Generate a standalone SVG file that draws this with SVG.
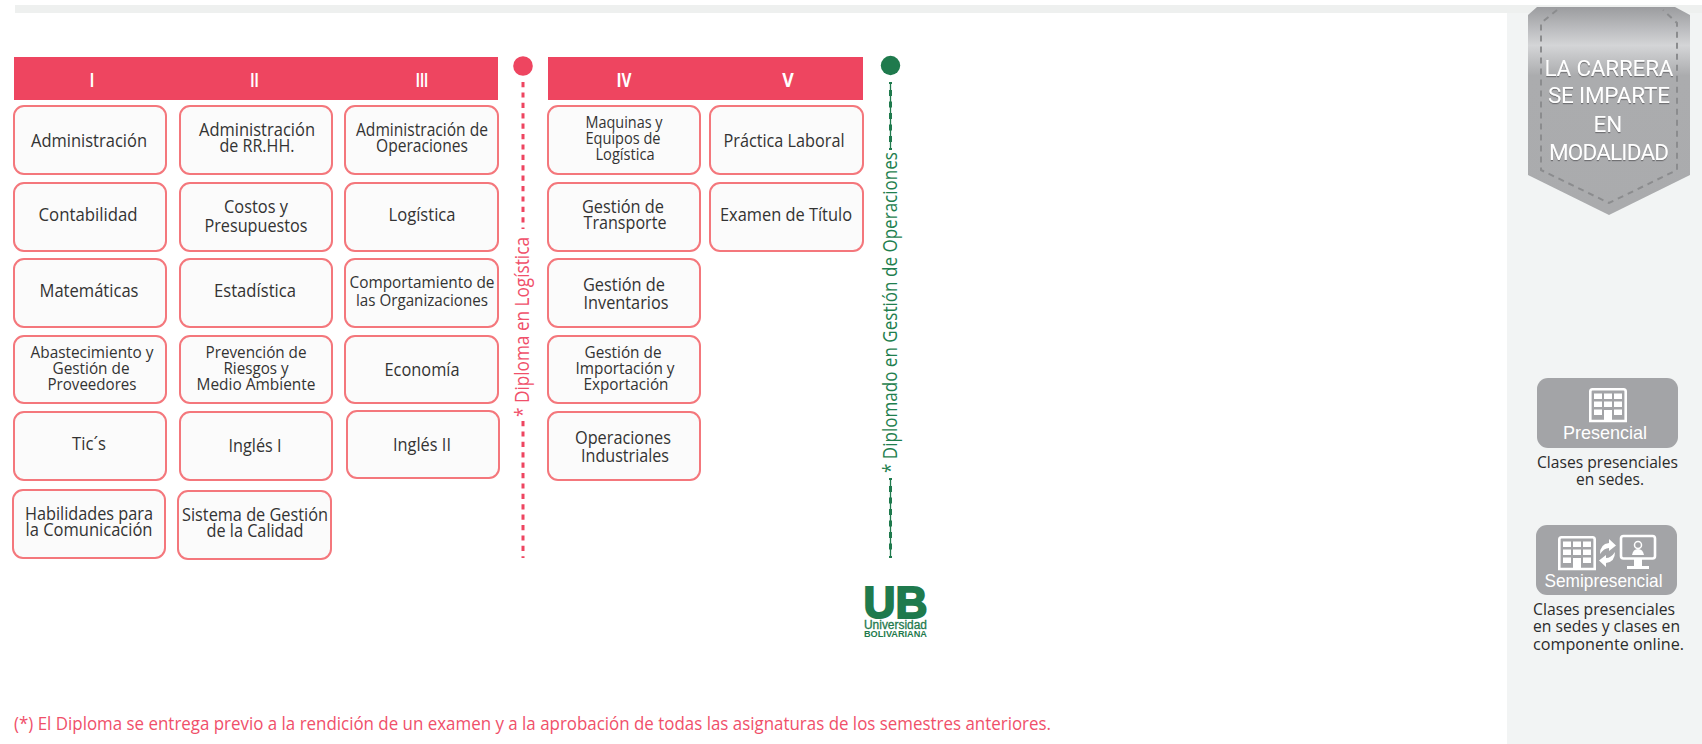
<svg xmlns="http://www.w3.org/2000/svg" width="1702" height="744" viewBox="0 0 1702 744">
<style>
.box{fill:#fbfbfb;stroke:#f4777c;stroke-width:2}
.t{font-family:"Open Sans","Noto Sans",sans-serif;font-size:17.500px;fill:#333;text-anchor:middle}
.s{font-size:16px}
.num{font-family:"Open Sans","Noto Sans",sans-serif;font-size:20px;font-weight:700;fill:#fff;text-anchor:middle}
.bar{fill:#ee4560}
.rot{font-family:"Open Sans","Noto Sans",sans-serif;font-size:19.500px}
.ban{font-family:"Roboto","Liberation Sans",sans-serif;font-size:22.500px;fill:#fff;text-anchor:middle;filter:url(#sh)}
.lab{font-family:"Liberation Sans",sans-serif;font-size:18.500px;fill:#fff;text-anchor:middle}
.ico{fill:none;stroke:#fff;stroke-width:2.600}
.win{fill:#fff}
.cap{font-family:"Open Sans","Noto Sans",sans-serif;font-size:17px;fill:#2b2b2b}
</style>
<defs>
<linearGradient id="bg" x1="0" y1="7" x2="0" y2="215" gradientUnits="userSpaceOnUse">
<stop offset="0" stop-color="#9b9c9f"/><stop offset=".185" stop-color="#d4d5d7"/><stop offset=".33" stop-color="#abacae"/><stop offset="1" stop-color="#aaabad"/>
</linearGradient>
<filter id="sh" x="-10%" y="-20%" width="120%" height="150%"><feDropShadow dx="0" dy="1.200" stdDeviation=".4" flood-color="#6f7072"/></filter>
<g id="bld">
<path class="ico" d="M1.300 33V3.500Q1.300 1.300 3.500 1.300H34.500Q36.700 1.300 36.700 3.500V33Z"/>
<rect class="win" x="5" y="5.500" width="8" height="5.500"/><rect class="win" x="15" y="5.500" width="8" height="5.500"/><rect class="win" x="25" y="5.500" width="8" height="5.500"/>
<rect class="win" x="5" y="13.500" width="8" height="5.500"/><rect class="win" x="15" y="13.500" width="8" height="5.500"/><rect class="win" x="25" y="13.500" width="8" height="5.500"/>
<rect class="win" x="5" y="21.500" width="8" height="5.500"/><rect class="win" x="25" y="21.500" width="8" height="5.500"/>
<rect class="win" x="15" y="22" width="8" height="11"/>
</g>
</defs>
<rect width="1702" height="744" fill="#fff"/>
<rect x="15" y="5" width="1687" height="8" fill="#eef0ef"/>
<rect x="1507" y="13" width="195" height="731" fill="#f2f4f4"/>

<g id="header-1"><rect class="bar" x="14" y="57" width="484" height="43"/>
<text class="num" x="92" y="87" textLength="4.500" lengthAdjust="spacingAndGlyphs">I</text><text class="num" x="254.500" y="87" textLength="8.500" lengthAdjust="spacingAndGlyphs">II</text><text class="num" x="422" y="87" textLength="12.500" lengthAdjust="spacingAndGlyphs">III</text></g>
<g id="header-2"><rect class="bar" x="548" y="57" width="315" height="43"/>
<text class="num" x="624" y="87" textLength="15" lengthAdjust="spacingAndGlyphs">IV</text><text class="num" x="788" y="87" textLength="11.500" lengthAdjust="spacingAndGlyphs">V</text></g>

<g id="connectors">
<circle cx="523" cy="66" r="9.800" fill="#ee4560"/>
<path d="M523 82V229M523 421V558" stroke="#ee4560" stroke-width="3" stroke-dasharray="5.200 5.200" fill="none"/>
<circle cx="890.500" cy="65.500" r="9.700" fill="#1f7a4d"/>
<path d="M890.500 83V149M890.500 479V558" stroke="#1f7a4d" stroke-width="1.300" fill="none"/>
<path d="M890.500 90V143M890.500 486V552" stroke="#1f7a4d" stroke-width="3" stroke-dasharray="6 5.500" fill="none"/>
<path d="M890.500 82v2M890.500 148v2M890.500 478v2M890.500 556v2" stroke="#1f7a4d" stroke-width="3" fill="none"/>
</g>
<text class="rot" fill="#f0506a" transform="translate(529 417) rotate(-90)" textLength="180" lengthAdjust="spacingAndGlyphs">* Diploma en Logística</text>
<text class="rot" fill="#1f7f4f" transform="translate(897 473) rotate(-90)" textLength="321" lengthAdjust="spacingAndGlyphs">* Diplomado en Gestión de Operaciones</text>

<g id="n-administracion"><rect class="box" x="14" y="106" width="152" height="68" rx="10"/><text class="t" x="89" y="147" textLength="116" lengthAdjust="spacingAndGlyphs">Administración</text></g>
<g id="n-contabilidad"><rect class="box" x="14" y="183" width="152" height="68" rx="10"/><text class="t" x="88" y="221" textLength="99" lengthAdjust="spacingAndGlyphs">Contabilidad</text></g>
<g id="n-matematicas"><rect class="box" x="14" y="259" width="152" height="68" rx="10"/><text class="t" x="89" y="297" textLength="99" lengthAdjust="spacingAndGlyphs">Matemáticas</text></g>
<g id="n-abastecimiento"><rect class="box" x="14" y="336" width="152" height="67" rx="10"/><text class="t s" x="92" y="358" textLength="123" lengthAdjust="spacingAndGlyphs">Abastecimiento y</text><text class="t s" x="91" y="374" textLength="77" lengthAdjust="spacingAndGlyphs">Gestión de</text><text class="t s" x="92" y="390" textLength="89" lengthAdjust="spacingAndGlyphs">Proveedores</text></g>
<g id="n-tics"><rect class="box" x="14" y="412" width="152" height="68" rx="10"/><text class="t" x="89" y="450" textLength="34" lengthAdjust="spacingAndGlyphs">Tic´s</text></g>
<g id="n-habilidades"><rect class="box" x="13" y="490" width="152" height="68" rx="10"/><text class="t" x="89" y="520" textLength="128" lengthAdjust="spacingAndGlyphs">Habilidades para</text><text class="t" x="89" y="536" textLength="127" lengthAdjust="spacingAndGlyphs">la Comunicación</text></g>

<g id="n-rrhh"><rect class="box" x="180" y="106" width="152" height="68" rx="10"/><text class="t" x="257" y="136" textLength="116" lengthAdjust="spacingAndGlyphs">Administración</text><text class="t" x="257" y="152" textLength="75" lengthAdjust="spacingAndGlyphs">de RR.HH.</text></g>
<g id="n-costos"><rect class="box" x="180" y="183" width="152" height="68" rx="10"/><text class="t" x="256" y="213" textLength="64" lengthAdjust="spacingAndGlyphs">Costos y</text><text class="t" x="256" y="232" textLength="103" lengthAdjust="spacingAndGlyphs">Presupuestos</text></g>
<g id="n-estadistica"><rect class="box" x="180" y="259" width="152" height="68" rx="10"/><text class="t" x="255" y="297" textLength="82" lengthAdjust="spacingAndGlyphs">Estadística</text></g>
<g id="n-prevencion"><rect class="box" x="180" y="336" width="152" height="67" rx="10"/><text class="t s" x="256" y="358" textLength="101" lengthAdjust="spacingAndGlyphs">Prevención de</text><text class="t s" x="256" y="374" textLength="65" lengthAdjust="spacingAndGlyphs">Riesgos y</text><text class="t s" x="256" y="390" textLength="119" lengthAdjust="spacingAndGlyphs">Medio Ambiente</text></g>
<g id="n-ingles1"><rect class="box" x="180" y="412" width="152" height="68" rx="10"/><text class="t" x="255" y="452" textLength="53" lengthAdjust="spacingAndGlyphs">Inglés I</text></g>
<g id="n-sistema"><rect class="box" x="178" y="491" width="153" height="68" rx="10"/><text class="t" x="255" y="521" textLength="146" lengthAdjust="spacingAndGlyphs">Sistema de Gestión</text><text class="t" x="255" y="537" textLength="97" lengthAdjust="spacingAndGlyphs">de la Calidad</text></g>

<g id="n-operaciones"><rect class="box" x="345" y="106" width="153" height="68" rx="10"/><text class="t" x="422" y="136" textLength="132" lengthAdjust="spacingAndGlyphs">Administración de</text><text class="t" x="422" y="152" textLength="92" lengthAdjust="spacingAndGlyphs">Operaciones</text></g>
<g id="n-logistica"><rect class="box" x="345" y="183" width="153" height="68" rx="10"/><text class="t" x="422" y="221" textLength="67" lengthAdjust="spacingAndGlyphs">Logística</text></g>
<g id="n-comportamiento"><rect class="box" x="345" y="259" width="153" height="68" rx="10"/><text class="t s" x="422" y="288" textLength="145" lengthAdjust="spacingAndGlyphs">Comportamiento de</text><text class="t s" x="422" y="306" textLength="132" lengthAdjust="spacingAndGlyphs">las Organizaciones</text></g>
<g id="n-economia"><rect class="box" x="345" y="336" width="153" height="67" rx="10"/><text class="t" x="422" y="376" textLength="75" lengthAdjust="spacingAndGlyphs">Economía</text></g>
<g id="n-ingles2"><rect class="box" x="347" y="411" width="152" height="67" rx="10"/><text class="t" x="422" y="451" textLength="58" lengthAdjust="spacingAndGlyphs">Inglés II</text></g>

<g id="n-maquinas"><rect class="box" x="548" y="106" width="152" height="68" rx="10"/><text class="t s" x="624" y="128" textLength="77" lengthAdjust="spacingAndGlyphs">Maquinas y</text><text class="t s" x="623" y="144" textLength="75" lengthAdjust="spacingAndGlyphs">Equipos de</text><text class="t s" x="625" y="160" textLength="59" lengthAdjust="spacingAndGlyphs">Logística</text></g>
<g id="n-transporte"><rect class="box" x="548" y="183" width="152" height="68" rx="10"/><text class="t" x="623" y="213" textLength="82" lengthAdjust="spacingAndGlyphs">Gestión de</text><text class="t" x="625" y="229" textLength="83" lengthAdjust="spacingAndGlyphs">Transporte</text></g>
<g id="n-inventarios"><rect class="box" x="548" y="259" width="152" height="68" rx="10"/><text class="t" x="624" y="291" textLength="82" lengthAdjust="spacingAndGlyphs">Gestión de</text><text class="t" x="626" y="309" textLength="85" lengthAdjust="spacingAndGlyphs">Inventarios</text></g>
<g id="n-importacion"><rect class="box" x="548" y="336" width="152" height="67" rx="10"/><text class="t s" x="623" y="358" textLength="77" lengthAdjust="spacingAndGlyphs">Gestión de</text><text class="t s" x="625" y="374" textLength="99" lengthAdjust="spacingAndGlyphs">Importación y</text><text class="t s" x="626" y="390" textLength="85" lengthAdjust="spacingAndGlyphs">Exportación</text></g>
<g id="n-industriales"><rect class="box" x="548" y="412" width="152" height="68" rx="10"/><text class="t" x="623" y="444" textLength="96" lengthAdjust="spacingAndGlyphs">Operaciones</text><text class="t" x="625" y="462" textLength="88" lengthAdjust="spacingAndGlyphs">Industriales</text></g>

<g id="n-practica"><rect class="box" x="710" y="106" width="153" height="68" rx="10"/><text class="t" x="784" y="147" textLength="121" lengthAdjust="spacingAndGlyphs">Práctica Laboral</text></g>
<g id="n-examen"><rect class="box" x="710" y="183" width="153" height="68" rx="10"/><text class="t" x="786" y="221" textLength="132" lengthAdjust="spacingAndGlyphs">Examen de Título</text></g>

<g id="logo" fill="#1f7a4d" font-family="Liberation Sans,sans-serif">
<text x="863.500" y="618" font-size="45" font-weight="700" textLength="64" lengthAdjust="spacingAndGlyphs" stroke="#1f7a4d" stroke-width="2">UB</text>
<text x="864" y="628.500" font-size="12" stroke="#1f7a4d" stroke-width=".3" textLength="63" lengthAdjust="spacingAndGlyphs">Universidad</text>
<text x="864" y="636.500" font-size="9" font-weight="700" textLength="63" lengthAdjust="spacingAndGlyphs">BOLIVARIANA</text>
</g>

<text x="14" y="730" font-family="Open Sans,Noto Sans,sans-serif" font-size="18.500" fill="#f0506a" textLength="1037" lengthAdjust="spacingAndGlyphs">(*) El Diploma se entrega previo a la rendición de un examen y a la aprobación de todas las asignaturas de los semestres anteriores.</text>

<g id="banner">
<path d="M1537 7H1675L1690 15V175L1609 215L1528 175V15Z" fill="url(#bg)"/>
<path d="M1557 10L1541 23V170L1609 203L1677 170V23L1663 10" fill="none" stroke="#8b8c8e" stroke-width="2" stroke-dasharray="6 5"/>
<text class="ban" x="1609" y="76" textLength="129">LA CARRERA</text>
<text class="ban" x="1609" y="103" textLength="122">SE IMPARTE</text>
<text class="ban" x="1608" y="132">EN</text>
<text class="ban" x="1609" y="160" textLength="120">MODALIDAD</text>
</g>

<g id="presencial">
<rect x="1537" y="378" width="141" height="70" rx="11" fill="#a3a4a7"/>
<use href="#bld" x="1589" y="388"/>
<text class="lab" x="1605" y="439" textLength="84" lengthAdjust="spacingAndGlyphs">Presencial</text>
<text class="cap" x="1607.500" y="468" text-anchor="middle" textLength="141" lengthAdjust="spacingAndGlyphs">Clases presenciales</text>
<text class="cap" x="1610" y="485" text-anchor="middle" textLength="68" lengthAdjust="spacingAndGlyphs">en sedes.</text>
</g>

<g id="semipresencial">
<rect x="1536" y="525" width="141" height="70" rx="11" fill="#a3a4a7"/>
<use href="#bld" x="1558" y="536"/>
<path d="M1600 554Q1600 544 1609 543V539L1616 545.500L1609 551V548Q1604 548 1600 554ZM1615 552Q1615 562 1606 563V567L1599 560.500L1606 555V558Q1611 558 1615 552Z" fill="#fff"/>
<rect x="1621" y="536" width="34" height="22.500" rx="2.500" fill="none" stroke="#fff" stroke-width="2.600"/>
<circle cx="1638" cy="545" r="3.500" fill="none" stroke="#fff" stroke-width="1.500"/>
<path d="M1632 555Q1633 549 1638 549Q1643 549 1644 555Z" fill="#fff"/>
<path d="M1634 558H1642V566H1634ZM1627 566H1649V569H1627Z" fill="#fff"/>
<circle cx="1651.500" cy="555" r="1" fill="#a3a4a7"/>
<text class="lab" x="1603.500" y="587" textLength="118" lengthAdjust="spacingAndGlyphs">Semipresencial</text>
<text class="cap" x="1533" y="615" textLength="142" lengthAdjust="spacingAndGlyphs">Clases presenciales</text>
<text class="cap" x="1533" y="632" textLength="147" lengthAdjust="spacingAndGlyphs">en sedes y clases en</text>
<text class="cap" x="1533" y="650" textLength="151" lengthAdjust="spacingAndGlyphs">componente online.</text>
</g>
</svg>
